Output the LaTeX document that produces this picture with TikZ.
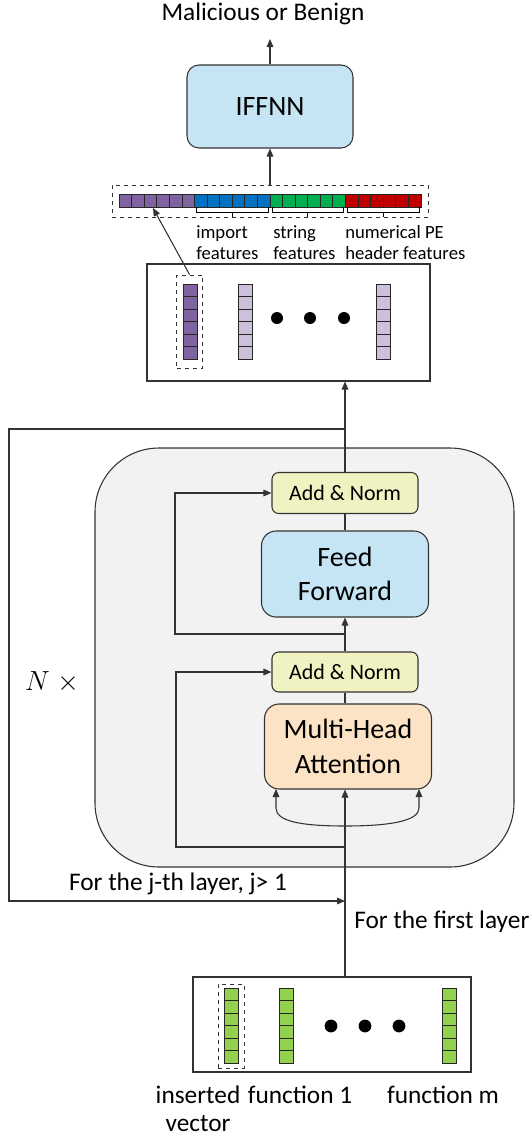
\documentclass[tikz,border=0pt]{standalone}
\usepackage{fontspec}
\setmainfont{Carlito}
\usetikzlibrary{arrows.meta}

\definecolor{netblue}{HTML}{C5E5F5}
\definecolor{normgreen}{HTML}{F0F2C2}
\definecolor{attnorange}{HTML}{FCE3C6}
\definecolor{encgray}{HTML}{F2F2F2}
\definecolor{vpurple}{HTML}{8064A2}
\definecolor{lpurple}{HTML}{CCC0DA}
\definecolor{vblue}{HTML}{0070C0}
\definecolor{vgreen}{HTML}{00B050}
\definecolor{vred}{HTML}{C00000}
\definecolor{fgreen}{HTML}{92D050}

\tikzset{
  block/.style={draw=black!80, line width=0.8pt, inner sep=0pt, align=center},
  frame/.style={draw=black!80, line width=0.8pt, inner sep=0pt},
  dashbox/.style={draw=black!80, dashed, line width=0.7pt, inner sep=0pt},
  cell/.style={draw=black!85, line width=0.6pt},
  link/.style={draw=black!80, line width=0.8pt},
  txt/.style={font=\fontsize{19}{21}\selectfont},
  small/.style={font=\fontsize{14}{15.75}\selectfont, align=left, inner sep=0pt},
}

\begin{document}
\begin{tikzpicture}[x=0.75pt, y=-0.75pt, >={Triangle[length=6pt,width=5pt]}]
  \useasboundingbox (0,0) rectangle (532,1140);

  % classifier on top
  \node[txt] (res) at (263,14) {Malicious or Benign};
  \node[block, fill=netblue, rounded corners=9pt, minimum width=124.5pt, minimum height=62.25pt,
        font=\fontsize{21}{25}\selectfont] (iffnn) at (270,106.5) {IFFNN};
  \draw[link,->, shorten >=7pt] (iffnn.north) -- (iffnn.north |- res.south);

  % concatenated feature vector
  \node[dashbox, minimum width=237pt, minimum height=24pt] (fvec) at (270,201) {};
  \foreach \col/\s in {vpurple/0, vblue/6, vgreen/12, vred/18}
    \foreach \k in {0,...,5}
      \draw[cell, fill=\col] ({119+12.58*(\s+\k)},194) rectangle +(12.58,13);
  \draw[link,->] (fvec.north) -- (iffnn.south);
  \foreach \a/\b in {196/268, 272/343, 347/419}
    \draw[line width=0.6pt] (\a,207) -- (\a,212) -- (\b,212) -- (\b,207)
      ({(\a+\b)/2},212) -- ({(\a+\b)/2},217);
  \node[small, anchor=west] (imp) at (196,243) {import\\features};
  \node[small, anchor=west] (str) at (273,243) {string\\features};
  \node[small, anchor=west] (num) at (345,243) {numerical PE\\header features};

  % encoder outputs
  \node[frame, minimum width=212.25pt, minimum height=87.75pt] (emb) at (288.5,322.5) {};
  \foreach \x/\col in {183/vpurple, 238/lpurple, 376/lpurple}
    \foreach \k in {0,...,5}
      \draw[cell, fill=\col] (\x,{284+12.5*\k}) rectangle +(14,12.5);
  \foreach \x in {277,310,344}
    \fill (\x,318) circle (4.5pt);
  \node[dashbox, minimum width=19.5pt, minimum height=69.75pt] (sel) at (189.5,321.5) {};
  \coordinate (pick) at (153,208);
  \draw[link,->] (sel.north) -- (pick);

  % transformer encoder layer
  \node[draw=black!80, line width=0.8pt, fill=encgray, rounded corners=48pt,
        minimum width=314.25pt, minimum height=314.25pt] (enc) at (304.5,657.5) {};
  \node[block, fill=normgreen, rounded corners=5pt, minimum width=109.5pt, minimum height=30.75pt,
        font=\fontsize{16.5}{20}\selectfont] (an1) at (345,493) {Add \& Norm};
  \node[block, fill=netblue, rounded corners=11pt, minimum width=125.25pt, minimum height=64.5pt,
        font=\fontsize{21}{26}\selectfont] (ff) at (345,574) {Feed\\Forward};
  \node[block, fill=normgreen, rounded corners=5pt, minimum width=109.5pt, minimum height=30pt,
        font=\fontsize{16.5}{20}\selectfont] (an2) at (345,672) {Add \& Norm};
  \node[block, fill=attnorange, rounded corners=11pt, minimum width=125.25pt, minimum height=63.75pt,
        font=\fontsize{21}{26}\selectfont] (mha) at (348,746.5) {Multi-Head\\Attention};

  \draw[link,->] (an1.north) -- (emb.south -| an1);
  \draw[link] (ff.north) -- (an1.south);
  \draw[link,->] (an2.north) -- (ff.south);
  \draw[link] (mha.north -| an2) -- (an2.south);

  % residual connections
  \coordinate (r1) at (345,634);
  \coordinate (r2) at (345,847);
  \draw[link,->] (r1) -| (175,493) -- (an1.west);
  \draw[link,->] (r2) -| (176,672) -- (an2.west);

  % query, key and value
  \coordinate (vin) at (345,826);
  \coordinate (qin) at (276,789);
  \coordinate (kin) at (419,789);
  \draw[link,->] (vin) .. controls (300,826) and (276,821) .. (276,808) -- (qin);
  \draw[link,->] (vin) .. controls (390,826) and (419,821) .. (419,808) -- (kin);

  % loop back for later layers
  \coordinate (fb) at (345,429);
  \coordinate (fbin) at (345,901);
  \draw[link,->] (fb) -- (9,429) -- (9,901) -- (fbin);
  \node[txt] (jlayer) at (178,884) {For the j-th layer, j> 1};
  \node[txt, anchor=west, inner sep=0pt] (first) at (354,922) {For the first layer};
  \node[font=\fontsize{20}{22}\selectfont] (nx) at (52,682) {$N\;\times$};

  % input sequence
  \node[frame, minimum width=208.5pt, minimum height=71.25pt] (inp) at (332,1024.5) {};
  \foreach \x in {224,279,442}
    \foreach \k in {0,...,5}
      \draw[cell, fill=fgreen] (\x,{988+12.5*\k}) rectangle +(14,12.5);
  \foreach \x in {331,365,399}
    \fill (\x,1026) circle (4.8pt);
  \node[dashbox, minimum width=19.5pt, minimum height=63pt] (ins) at (231,1026) {};
  \draw[link,->] (inp.north -| an2) -- (mha.south -| an2);

  \node[txt, align=center] (insl) at (198,1109) {inserted\\vector};
  \node[txt] (f1) at (300,1095) {function 1};
  \node[txt] (fm) at (443,1095) {function m};
\end{tikzpicture}
\end{document}
